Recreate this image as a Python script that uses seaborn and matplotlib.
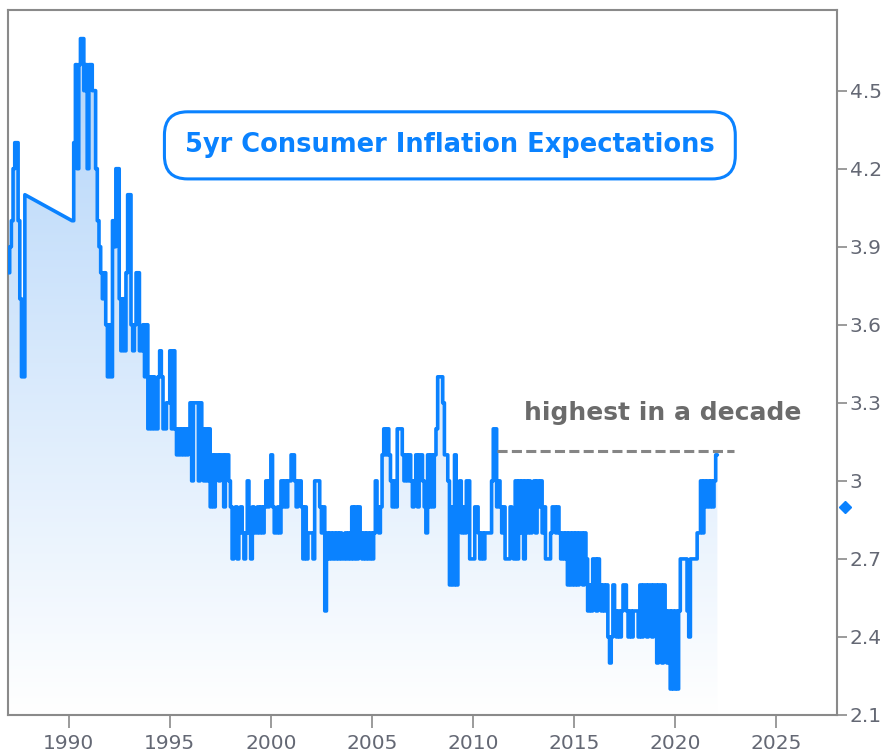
import numpy as np
import pandas as pd
import matplotlib
matplotlib.use('Agg')
import matplotlib.pyplot as plt
from matplotlib.colors import LinearSegmentedColormap
import seaborn as sns

sns.set_style('white')
plt.rcParams['font.family'] = ['DejaVu Sans']

# Monthly 5yr consumer inflation expectations (%)
# 1987 Jan-Nov, then the series resumes in Mar 1990
infl_1987 = [3.8, 3.9, 4.0, 4.2, 4.3, 4.3, 4.0, 3.7, 3.4, 3.4, 4.1]
infl_1990_1994 = [
    4.0, 4.3, 4.6, 4.2, 4.6, 4.7, 4.7, 4.5, 4.6, 4.2,
    4.6, 4.6, 4.5, 4.5, 4.2, 4.0, 3.9, 3.8, 3.7, 3.8, 3.6, 3.4,
    3.6, 3.4, 4.0, 3.9, 4.2, 4.2, 3.7, 3.5, 3.7, 3.5, 3.8, 4.1,
    4.1, 3.6, 3.5, 3.6, 3.8, 3.8, 3.5, 3.5, 3.6, 3.4, 3.6, 3.2,
    3.4, 3.2, 3.4, 3.2, 3.2, 3.4, 3.5, 3.4, 3.2, 3.2, 3.3, 3.3,
]
infl_1995_1999 = [
    3.5, 3.2, 3.5, 3.2, 3.1, 3.2, 3.1, 3.2, 3.1, 3.2, 3.1, 3.2,
    3.3, 3.0, 3.3, 3.3, 3.3, 3.0, 3.3, 3.2, 3.0, 3.2, 3.0, 3.2,
    2.9, 3.1, 2.9, 3.1, 3.1, 3.0, 3.1, 3.1, 2.9, 3.1, 3.1, 3.0,
    2.9, 2.7, 2.8, 2.9, 2.7, 2.8, 2.9, 2.8, 2.7, 2.8, 3.0, 2.8,
    2.7, 2.9, 2.8, 2.8, 2.9, 2.8, 2.9, 2.8, 2.9, 3.0, 2.9, 3.0,
]
infl_2000_2004 = [
    3.1, 2.9, 2.8, 2.8, 2.9, 2.8, 3.0, 2.9, 3.0, 2.9, 3.0, 3.0,
    3.1, 3.1, 3.0, 2.9, 3.0, 3.0, 2.9, 2.7, 2.9, 2.7, 2.8, 2.8,
    2.8, 2.7, 3.0, 3.0, 3.0, 2.9, 2.8, 2.9, 2.5, 2.8, 2.7, 2.8,
    2.7, 2.8, 2.7, 2.8, 2.7, 2.8, 2.7, 2.7, 2.8, 2.7, 2.8, 2.7,
    2.9, 2.7, 2.9, 2.7, 2.9, 2.8, 2.7, 2.8, 2.7, 2.8, 2.7, 2.8,
]
infl_2005_2009 = [
    2.7, 2.8, 3.0, 2.9, 2.8, 2.9, 3.1, 3.2, 3.1, 3.2, 3.1, 3.0,
    2.9, 3.0, 2.9, 3.2, 3.2, 3.2, 3.1, 3.0, 3.1, 3.0, 3.1, 3.0,
    2.9, 3.0, 3.1, 2.9, 3.1, 3.1, 3.0, 2.9, 2.8, 3.1, 2.9, 3.1,
    2.9, 3.1, 3.2, 3.4, 3.4, 3.4, 3.3, 3.1, 3.1, 3.0, 2.6, 2.9,
    2.6, 3.1, 2.6, 2.9, 3.0, 2.8, 2.9, 2.8, 3.0, 3.0, 2.7, 2.7,
]
infl_2010_2014 = [
    2.7, 2.9, 2.9, 2.8, 2.7, 2.8, 2.7, 2.8, 2.8, 2.8, 2.8, 3.0,
    3.2, 3.2, 2.9, 3.0, 2.9, 2.8, 2.9, 2.7, 2.7, 2.7, 2.9, 2.8,
    2.7, 3.0, 2.7, 3.0, 2.8, 3.0, 2.7, 3.0, 2.8, 3.0, 2.8, 2.9,
    3.0, 2.8, 3.0, 2.9, 3.0, 2.8, 2.9, 2.7, 2.7, 2.7, 2.8, 2.9,
    2.9, 2.8, 2.9, 2.8, 2.7, 2.8, 2.7, 2.8, 2.6, 2.8, 2.6, 2.8,
]
infl_2015_2019 = [
    2.6, 2.8, 2.6, 2.8, 2.8, 2.6, 2.8, 2.7, 2.5, 2.6, 2.5, 2.7,
    2.7, 2.5, 2.7, 2.6, 2.5, 2.6, 2.5, 2.6, 2.4, 2.3, 2.4, 2.6,
    2.5, 2.4, 2.5, 2.4, 2.5, 2.6, 2.6, 2.5, 2.4, 2.5, 2.4, 2.5,
    2.5, 2.5, 2.4, 2.6, 2.4, 2.6, 2.6, 2.4, 2.6, 2.6, 2.4, 2.6,
    2.6, 2.3, 2.6, 2.6, 2.3, 2.6, 2.5, 2.3, 2.5, 2.2, 2.5, 2.2,
]
infl_2020_2022 = [
    2.5, 2.2, 2.5, 2.7, 2.7, 2.7, 2.7, 2.5, 2.4, 2.7, 2.7, 2.7,
    2.7, 2.8, 2.8, 3.0, 2.8, 3.0, 2.9, 3.0, 2.9, 3.0, 2.9, 3.0,
    3.1, 3.1,
]

# (first year, first month, values, run id) - run 0 is the early 1987 survey
blocks = [
    (1987, 1, infl_1987, 0),
    (1990, 3, infl_1990_1994, 1),
    (1995, 1, infl_1995_1999, 1),
    (2000, 1, infl_2000_2004, 1),
    (2005, 1, infl_2005_2009, 1),
    (2010, 1, infl_2010_2014, 1),
    (2015, 1, infl_2015_2019, 1),
    (2020, 1, infl_2020_2022, 1),
]

year_ticks = [1990, 1995, 2000, 2005, 2010, 2015, 2020, 2025]
value_ticks = [2.1, 2.4, 2.7, 3.0, 3.3, 3.6, 3.9, 4.2, 4.5]
value_labels = ['2.1', '2.4', '2.7', '3', '3.3', '3.6', '3.9', '4.2', '4.5']
decade_high = 3.1
latest_marker = 2.9

x = np.concatenate([y0 + (m0 - 1) / 12 + np.arange(len(v)) / 12 for y0, m0, v, _ in blocks])
vals = np.concatenate([v for _, _, v, _ in blocks])
run = np.concatenate([[r] * len(v) for _, _, v, r in blocks])
df = pd.DataFrame({'year': x, 'expect': vals, 'run': run})


def step_outline(xv, yv):
    # monthly readings held until the next one; runs are joined by a straight line
    xs = np.repeat(xv, 2)[1:]
    ys = np.repeat(yv, 2)[:-1]
    return xs, ys


parts = [step_outline(g['year'].values, g['expect'].values) for _, g in df.groupby('run')]
outline = pd.DataFrame({'year': np.concatenate([p[0] for p in parts]),
                        'expect': np.concatenate([p[1] for p in parts])})

blue = '#0a82ff'
grey = '#8a8a8a'

fig = plt.figure(figsize=(8.88, 7.55), dpi=100)
ax = fig.add_axes([8 / 888, 1 - 715 / 755, 829 / 888, 705 / 755])

xlo, xhi, ylo, yhi = 1987, 2028, 2.1, 4.81

# gradient fill under the line
poly = ax.fill_between(outline['year'], outline['expect'], ylo, color='none', lw=0)
cmap = LinearSegmentedColormap.from_list('fade', ['#ffffff', '#b0d3f9'])
grad = np.linspace(0, 1, 256).reshape(-1, 1)
im = ax.imshow(grad, extent=[xlo, xhi, ylo, yhi], origin='lower', aspect='auto',
               cmap=cmap, zorder=1)
im.set_clip_path(poly.get_paths()[0], transform=ax.transData)

sns.lineplot(data=outline, x='year', y='expect', color=blue, lw=2.6, ax=ax,
             estimator=None, sort=False, zorder=3)

ax.set_xlim(xlo, xhi)
ax.set_ylim(ylo, yhi)
ax.set_xlabel('')
ax.set_ylabel('')

ax.set_xticks(year_ticks)
ax.set_yticks(value_ticks)
ax.set_yticklabels(value_labels)
ax.yaxis.tick_right()
ax.tick_params(axis='y', right=True, left=False, labelright=True, labelleft=False,
               direction='out', length=7, width=1.2, color=grey,
               labelsize=14.5, labelcolor='#646874', pad=2)
ax.tick_params(axis='x', bottom=True, direction='out', length=9, width=1.2,
               color=grey, labelsize=14.5, labelcolor='#646874', pad=5)

for side in ['left', 'right', 'top', 'bottom']:
    ax.spines[side].set_visible(True)
    ax.spines[side].set_color(grey)
    ax.spines[side].set_linewidth(1.5)

# title box
ax.text(0.533, 0.808, '5yr Consumer Inflation Expectations', transform=ax.transAxes,
        ha='center', va='center', fontsize=18.5, fontweight='bold', color=blue,
        bbox=dict(boxstyle='round,pad=0.8,rounding_size=0.9', fc='white',
                  ec=blue, lw=2.2), zorder=5)

# decade high annotation
ax.plot([2011.2, 2022.9], [decade_high + 0.015] * 2, color='#858585', lw=2.2,
        dashes=(3.3, 1.4), zorder=4)
ax.text(2019.4, 3.26, 'highest in a decade', ha='center', va='center',
        fontsize=18, fontweight='bold', color='#6b6b6b', zorder=5)

# marker on the right axis
ax.plot([2028.4], [latest_marker], marker='D', ms=6.5, color=blue, clip_on=False,
        zorder=6)

fig.savefig('out.png', dpi=100)
